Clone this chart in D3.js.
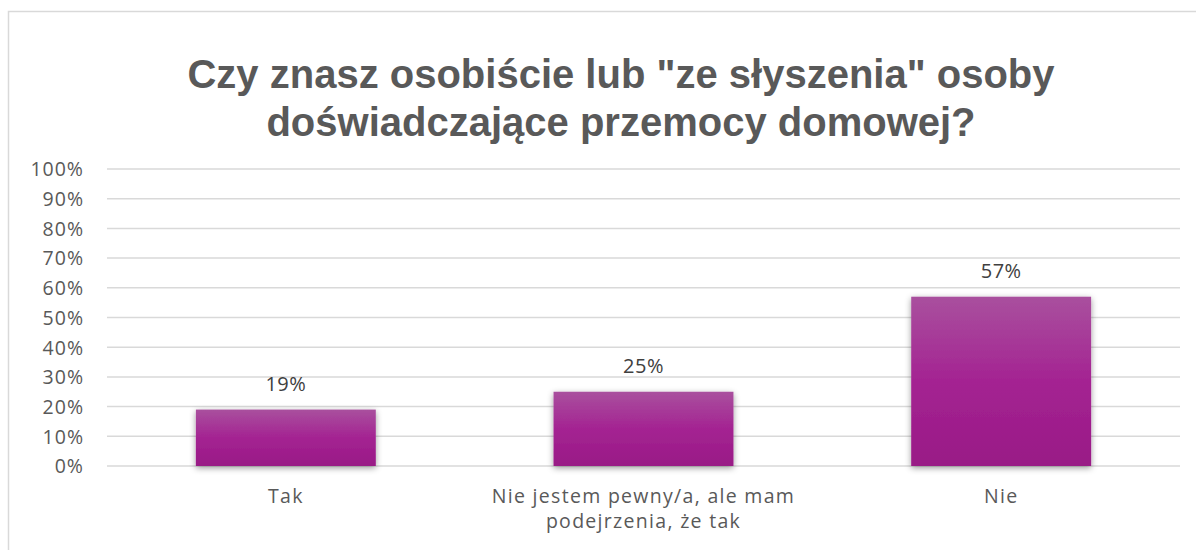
<!DOCTYPE html>
<html><head><meta charset="utf-8">
<script src="https://cdn.jsdelivr.net/npm/d3@7"></script>
<style>body{margin:0;background:#fff}svg{display:block}</style>
</head><body>
<script>
const titleLines = ['Czy znasz osobiście lub "ze słyszenia" osoby', 'doświadczające przemocy domowej?'];
const categories = ['Tak', 'Nie jestem pewny/a, ale mam podejrzenia, że tak', 'Nie'];
const categoryLines = [['Tak'], ['Nie jestem pewny/a, ale mam', 'podejrzenia, że tak'], ['Nie']];
const values = [0.19, 0.25, 0.57];
const yTicks = [0, 0.1, 0.2, 0.3, 0.4, 0.5, 0.6, 0.7, 0.8, 0.9, 1.0];

const W = 1196, H = 550;
const m = {left: 107, right: 16, top: 169, bottom: 84};
const FS = 19.5;
const svg = d3.select('body').append('svg').attr('width', W).attr('height', H);
const defs = svg.append('defs');
const grad = defs.append('linearGradient').attr('id', 'bg').attr('x1', 0).attr('y1', 0).attr('x2', 0).attr('y2', 1);
grad.append('stop').attr('offset', '0%').attr('stop-color', '#a9509e');
grad.append('stop').attr('offset', '50%').attr('stop-color', '#a42392');
grad.append('stop').attr('offset', '100%').attr('stop-color', '#991a86');
const f = defs.append('filter').attr('id', 'sh').attr('x', '-10%').attr('y', '-10%').attr('width', '120%').attr('height', '130%');
f.append('feDropShadow').attr('dx', 0).attr('dy', 2).attr('stdDeviation', 3).attr('flood-color', '#000').attr('flood-opacity', 0.4);

svg.append('rect').attr('x', 8.5).attr('y', 11.5).attr('width', W + 10).attr('height', H + 10)
  .attr('fill', 'none').attr('stroke', '#d9d9d9').attr('stroke-width', 1.5);

const x = d3.scaleBand().domain(categories).range([m.left, W - m.right]).paddingInner(0.497).paddingOuter(0.2485);
const y = d3.scaleLinear().domain([0, 1]).range([H - m.bottom, m.top]);

svg.append('g').selectAll('line').data(yTicks).join('line')
  .attr('x1', m.left).attr('x2', W - m.right)
  .attr('y1', d => y(d)).attr('y2', d => y(d))
  .attr('stroke', '#d9d9d9').attr('stroke-width', 1.5);

const yAxis = d3.axisLeft(y).tickValues(yTicks).tickFormat(d3.format('.0%')).tickSize(0).tickPadding(0);
const ga = svg.append('g').attr('transform', `translate(84,0)`).call(yAxis);
ga.select('.domain').remove();
ga.selectAll('text').attr('font-family', 'Open Sans, sans-serif').attr('font-size', FS).attr('letter-spacing', 1).attr('fill', '#595959').attr('dy', '0.35em');

svg.append('g').selectAll('rect').data(values).join('rect')
  .attr('x', (d, i) => x(categories[i])).attr('width', x.bandwidth())
  .attr('y', d => y(d)).attr('height', d => y(0) - y(d))
  .attr('fill', 'url(#bg)').attr('filter', 'url(#sh)');

svg.append('g').selectAll('text').data(values).join('text')
  .attr('x', (d, i) => x(categories[i]) + x.bandwidth() / 2)
  .attr('y', d => y(d) - 19)
  .attr('text-anchor', 'middle').attr('font-family', 'Open Sans, sans-serif').attr('font-size', FS + 0.5).attr('letter-spacing', 0.5).attr('fill', '#404040')
  .text(d => d3.format('.0%')(d));

const cg = svg.append('g');
categoryLines.forEach((lines, i) => {
  const t = cg.append('text').attr('text-anchor', 'middle').attr('font-family', 'Open Sans, sans-serif').attr('font-size', FS).attr('letter-spacing', 1.3).attr('fill', '#595959');
  lines.forEach((ln, j) => t.append('tspan').attr('x', x(categories[i]) + x.bandwidth() / 2).attr('y', 503 + j * 25).text(ln));
});

titleLines.forEach((ln, j) => svg.append('text').attr('x', 621).attr('y', 88 + j * 48)
  .attr('text-anchor', 'middle').attr('font-family', 'Liberation Sans, Arial, sans-serif').attr('font-weight', 'bold')
  .attr('font-size', 40).attr('fill', '#595959').text(ln));
</script>
</body></html>
